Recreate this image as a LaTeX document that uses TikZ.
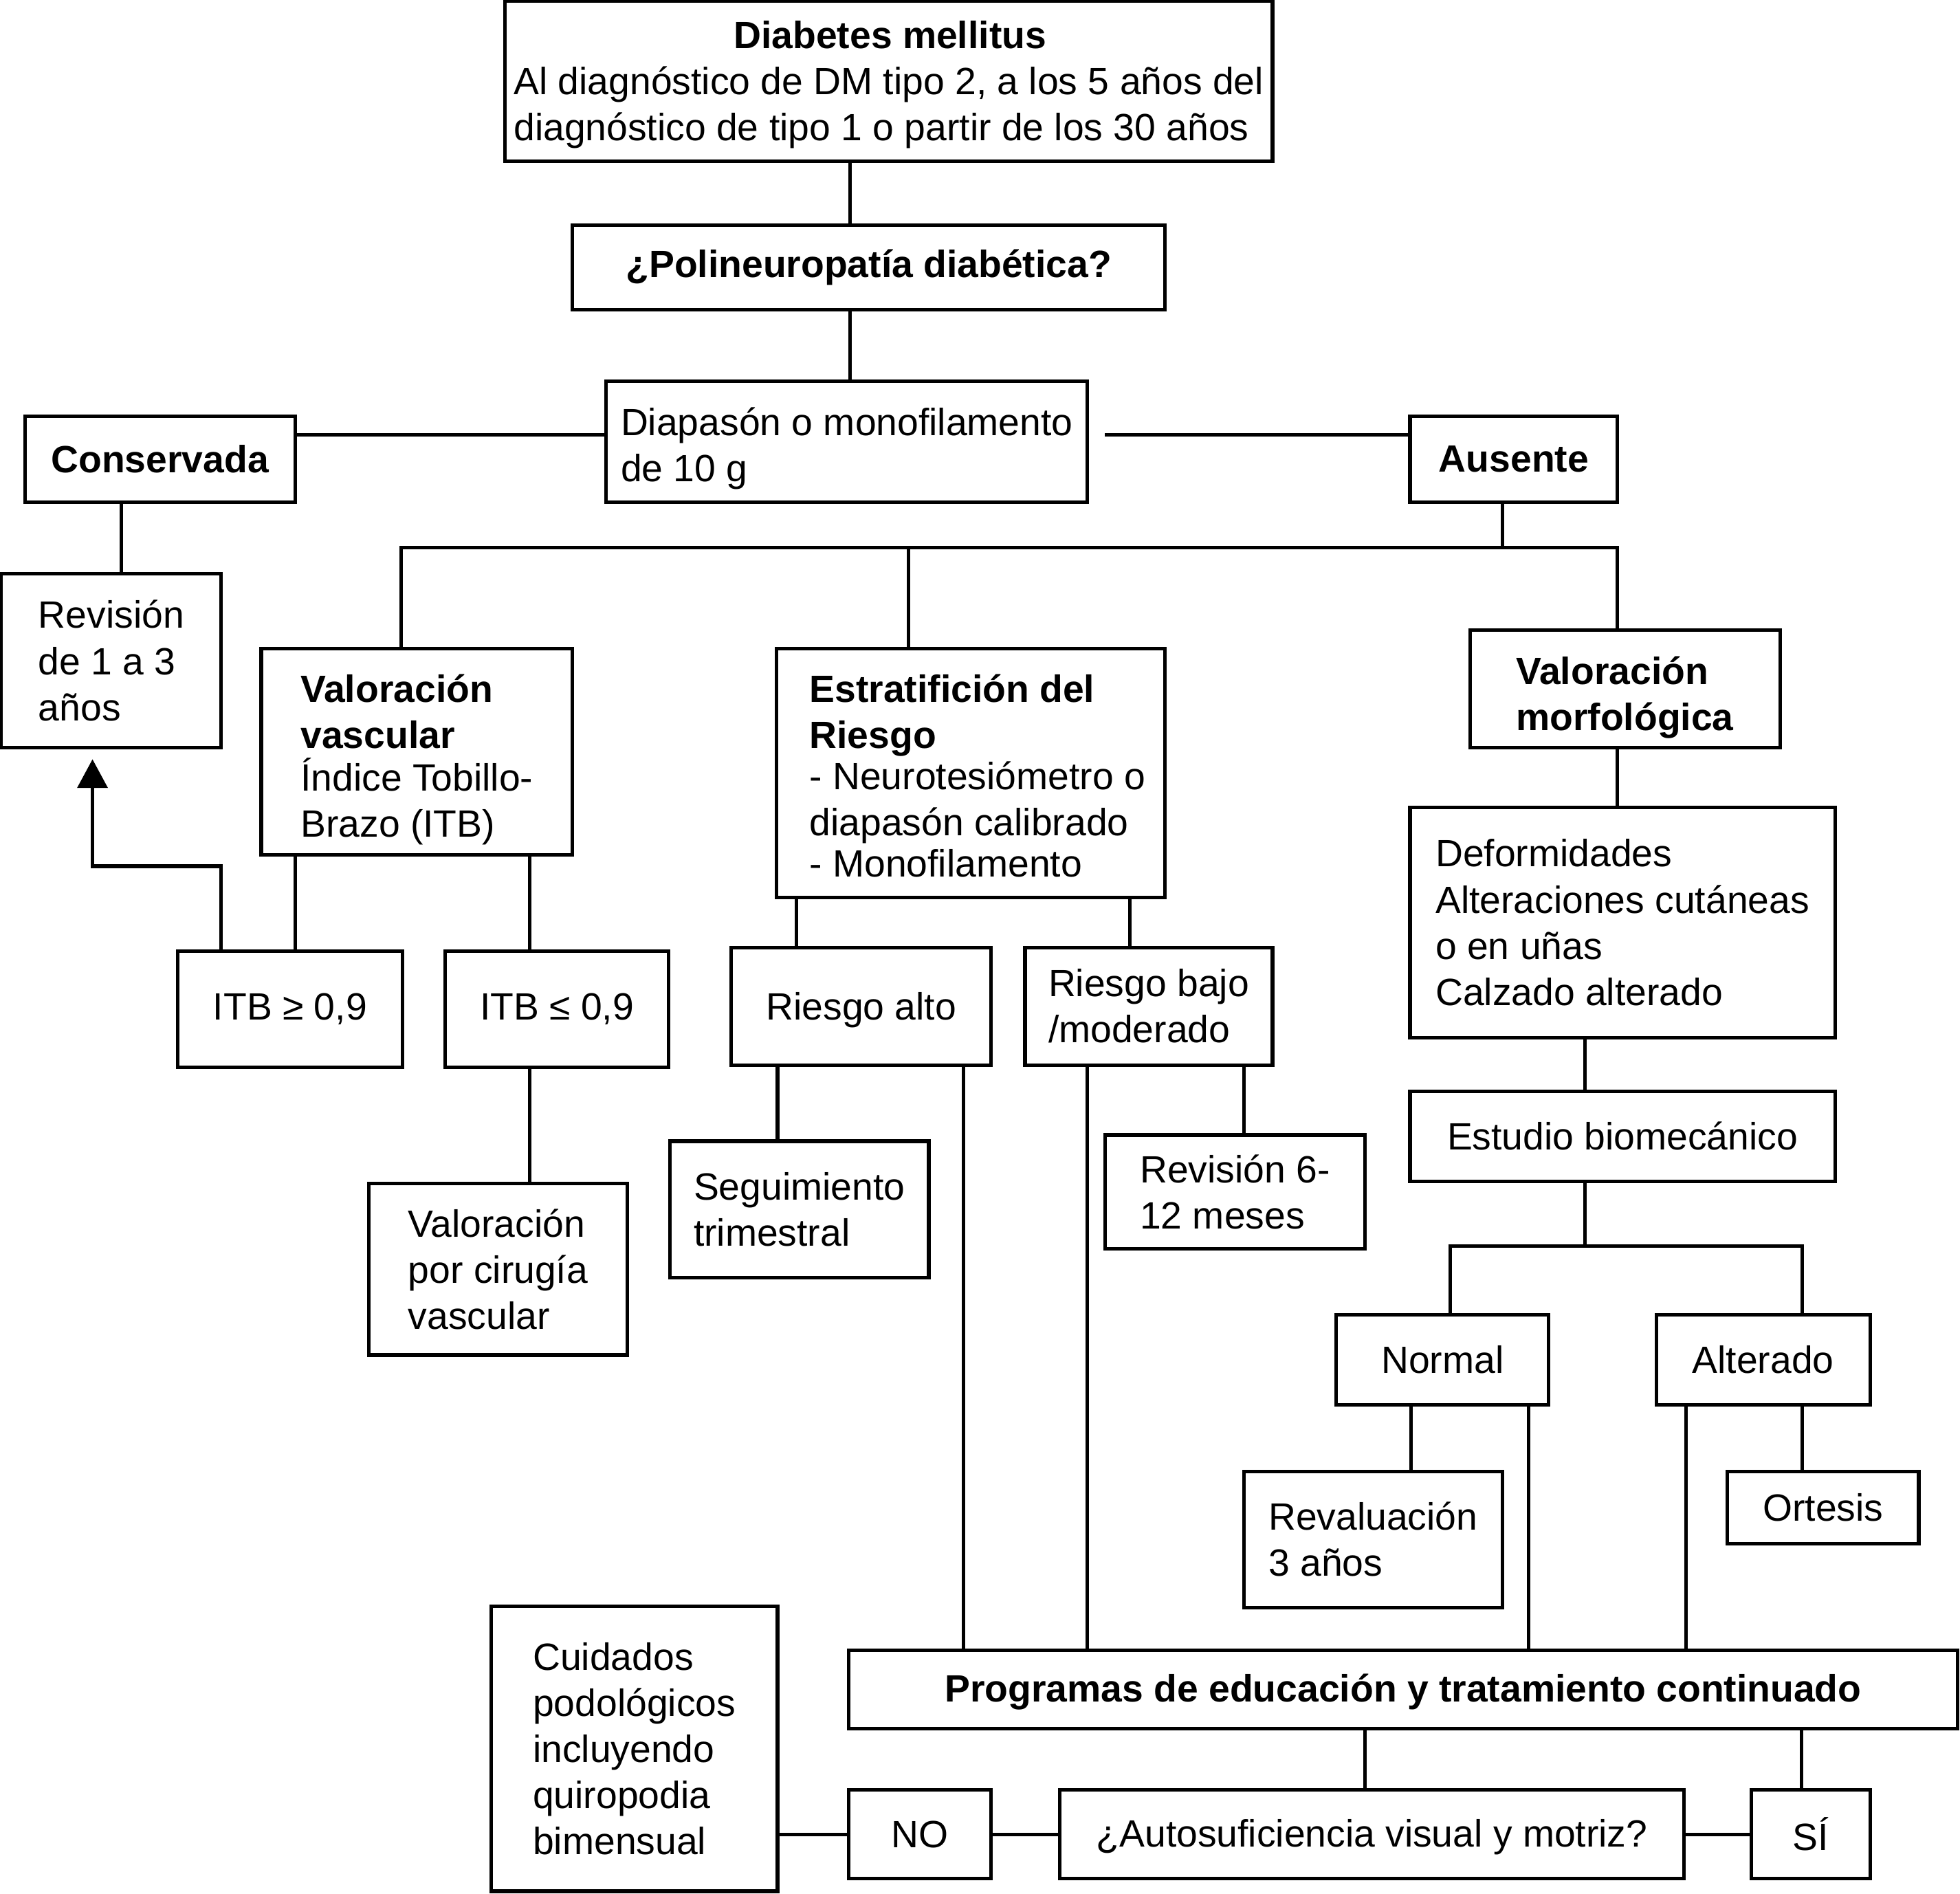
\documentclass[tikz,border=0pt]{standalone}
\usepackage{fontspec}
\setmainfont{Liberation Sans}
\usetikzlibrary{arrows.meta}
\tikzset{
  box/.style={draw, line width=0.8pt, inner sep=0pt, font=\fontsize{8.65}{10.5}\selectfont},
  conn/.style={line width=0.8pt},
  arrowconn/.style={conn, -{Triangle[length=2.3mm,width=2.4mm]}, shorten >=0.8mm},
}
% \fbx[extra options]{name}{x1}{y1}{x2}{y2}{align}{text}
\newcommand{\fbx}[8][]{%
  \pgfmathsetmacro\fbxW{(#5-#3)*0.1}%
  \pgfmathsetmacro\fbxH{(#6-#4)*0.1}%
  \node[box,align=#7,minimum width=\fbxW mm,minimum height=\fbxH mm,#1] (#2) at ({(#3+#5)/2},{-(#4+#6)/2}) {#8};}
\begin{document}
\begin{tikzpicture}[x=0.1mm,y=0.1mm]
\useasboundingbox (0,0) rectangle (1568,-1515);
% boxes
\fbx[text height=28.9pt]{diab}{404}{1}{1018}{129}{left}{\hspace*{17.6mm}\textbf{Diabetes mellitus}\\Al diagnóstico de DM tipo 2, a los 5 años del\\diagnóstico de tipo 1 o partir de los 30 años}
\fbx{poli}{458}{180}{932}{248}{center}{\textbf{¿Polineuropatía diabética?}}
\fbx[text height=19.9pt]{diap}{485}{305}{870}{402}{left}{Diapasón o monofilamento\\de 10 g}
\fbx{cons}{20}{333}{236}{402}{center}{\textbf{Conservada}}
\fbx{aus}{1128}{333}{1294}{402}{center}{\textbf{Ausente}}
\fbx{rev1}{1}{459}{177}{598}{left}{Revisión\\de 1 a 3\\años}
\fbx[text height=40.5pt]{vasc}{209}{519}{458}{684}{left}{\textbf{Valoración}\\\textbf{vascular}\\[-0.3mm]Índice Tobillo-\\Brazo (ITB)}
\fbx[text height=47.2pt]{estr}{621}{519}{932}{718}{left}{\hspace*{1.1mm}\textbf{Estratifición del}\\\hspace*{1.1mm}\textbf{Riesgo}\\[-0.4mm]\hspace*{1.1mm}- Neurotesiómetro o\\\hspace*{1.1mm}diapasón calibrado\\[-0.4mm]\hspace*{1.1mm}- Monofilamento}
\fbx[text height=20.8pt]{morf}{1176}{504}{1424}{598}{left}{\textbf{Valoración}\\\textbf{morfológica}}
\fbx{def}{1128}{646}{1468}{830}{left}{Deformidades\\Alteraciones cutáneas\\o en uñas\\Calzado alterado}
\fbx{itbg}{142}{761}{322}{854}{center}{ITB ≥ 0,9}
\fbx{itbl}{356}{761}{535}{854}{center}{ITB ≤ 0,9}
\fbx[text height=7.9pt]{ralto}{585}{758}{793}{852}{center}{Riesgo alto}
\fbx{rbajo}{820}{758}{1018}{852}{left}{Riesgo bajo\\/moderado}
\fbx{est}{1128}{873}{1468}{945}{center}{Estudio biomecánico}
\fbx{cir}{295}{947}{502}{1084}{left}{Valoración\\por cirugía\\vascular}
\fbx{seg}{536}{913}{743}{1022}{left}{Seguimiento\\trimestral}
\fbx{rev6}{884}{908}{1092}{999}{left}{Revisión 6-\\12 meses}
\fbx{norm}{1069}{1052}{1239}{1124}{center}{Normal}
\fbx{alt}{1325}{1052}{1496}{1124}{center}{Alterado}
\fbx{reval}{995}{1177}{1202}{1286}{left}{Revaluación\\3 años}
\fbx{ort}{1382}{1177}{1535}{1235}{center}{Ortesis}
\fbx[text height=7.45pt]{prog}{679}{1320}{1566}{1383}{center}{\textbf{Programas de educación y tratamiento continuado}}
\fbx{cuid}{393}{1285}{622}{1513}{left}{Cuidados\\podológicos\\incluyendo\\quiropodia\\bimensual}
\fbx{no}{679}{1432}{793}{1503}{center}{NO}
\fbx[text height=7.4pt]{auto}{848}{1432}{1347}{1503}{center}{¿Autosuficiencia visual y motriz?}
\fbx{si}{1401}{1432}{1496}{1503}{center}{SÍ}
% reference coordinates
\coordinate (k680) at (680,0);
\coordinate (y348) at (0,-348);
\coordinate (dgap) at (884,-348);
\coordinate (k97) at (97,0);
\coordinate (b1) at (321,-438);
\coordinate (b2) at (727,-438);
\coordinate (b3) at (1294,-438);
\coordinate (b4) at (1202,-438);
\coordinate (e0) at (1160,-997);
\coordinate (e1) at (1268,-997);
\coordinate (e2) at (1442,-997);
\coordinate (k236) at (236,0);
\coordinate (k424) at (424,0);
\coordinate (k637) at (637,0);
\coordinate (k904) at (904,0);
\coordinate (k622) at (622,0);
\coordinate (k771) at (771,0);
\coordinate (k870) at (870,0);
\coordinate (k995) at (995,0);
\coordinate (k1129) at (1129,0);
\coordinate (k1223) at (1223,0);
\coordinate (k1349) at (1349,0);
\coordinate (k1442) at (1442,0);
\coordinate (k1092) at (1092,0);
\coordinate (k1441) at (1441,0);
\coordinate (a1) at (177,-693);
\coordinate (a2) at (74,0);
% connectors
\draw[conn] (diab.south -| k680) -- (poli.north -| k680);
\draw[conn] (poli.south -| k680) -- (diap.north -| k680);
\draw[conn] (cons.east |- y348) -- (diap.west |- y348);
\draw[conn] (dgap) -- (aus.west |- y348);
\draw[conn] (cons.south -| k97) -- (rev1.north -| k97);
\draw[conn] (aus.south -| b4) -- (b4);
\draw[conn] (vasc.north -| b1) -- (b1) -- (b3) -- (morf.north -| b3);
\draw[conn] (b2) -- (estr.north -| b2);
\draw[conn] (morf.south -| b3) -- (def.north -| b3);
\draw[conn] (def.south -| e1) -- (est.north -| e1);
\draw[conn] (est.south -| e1) -- (e1);
\draw[conn] (norm.north -| e0) -- (e0) -- (e2) -- (alt.north -| e2);
\draw[conn] (vasc.south -| k236) -- (itbg.north -| k236);
\draw[conn] (vasc.south -| k424) -- (itbl.north -| k424);
\draw[conn] (itbl.south -| k424) -- (cir.north -| k424);
\draw[arrowconn] (itbg.north -| a1) -- (a1) -| (rev1.south -| a2);
\draw[conn] (estr.south -| k637) -- (ralto.north -| k637);
\draw[conn] (estr.south -| k904) -- (rbajo.north -| k904);
\draw[conn] (ralto.south -| k622) -- (seg.north -| k622);
\draw[conn] (ralto.south -| k771) -- (prog.north -| k771);
\draw[conn] (rbajo.south -| k870) -- (prog.north -| k870);
\draw[conn] (rbajo.south -| k995) -- (rev6.north -| k995);
\draw[conn] (norm.south -| k1129) -- (reval.north -| k1129);
\draw[conn] (norm.south -| k1223) -- (prog.north -| k1223);
\draw[conn] (alt.south -| k1349) -- (prog.north -| k1349);
\draw[conn] (alt.south -| k1442) -- (ort.north -| k1442);
\draw[conn] (prog.south -| k1092) -- (auto.north -| k1092);
\draw[conn] (prog.south -| k1441) -- (si.north -| k1441);
\draw[conn] (cuid.east |- no.west) -- (no.west);
\draw[conn] (no.east) -- (auto.west);
\draw[conn] (auto.east) -- (si.west);
\end{tikzpicture}
\end{document}
